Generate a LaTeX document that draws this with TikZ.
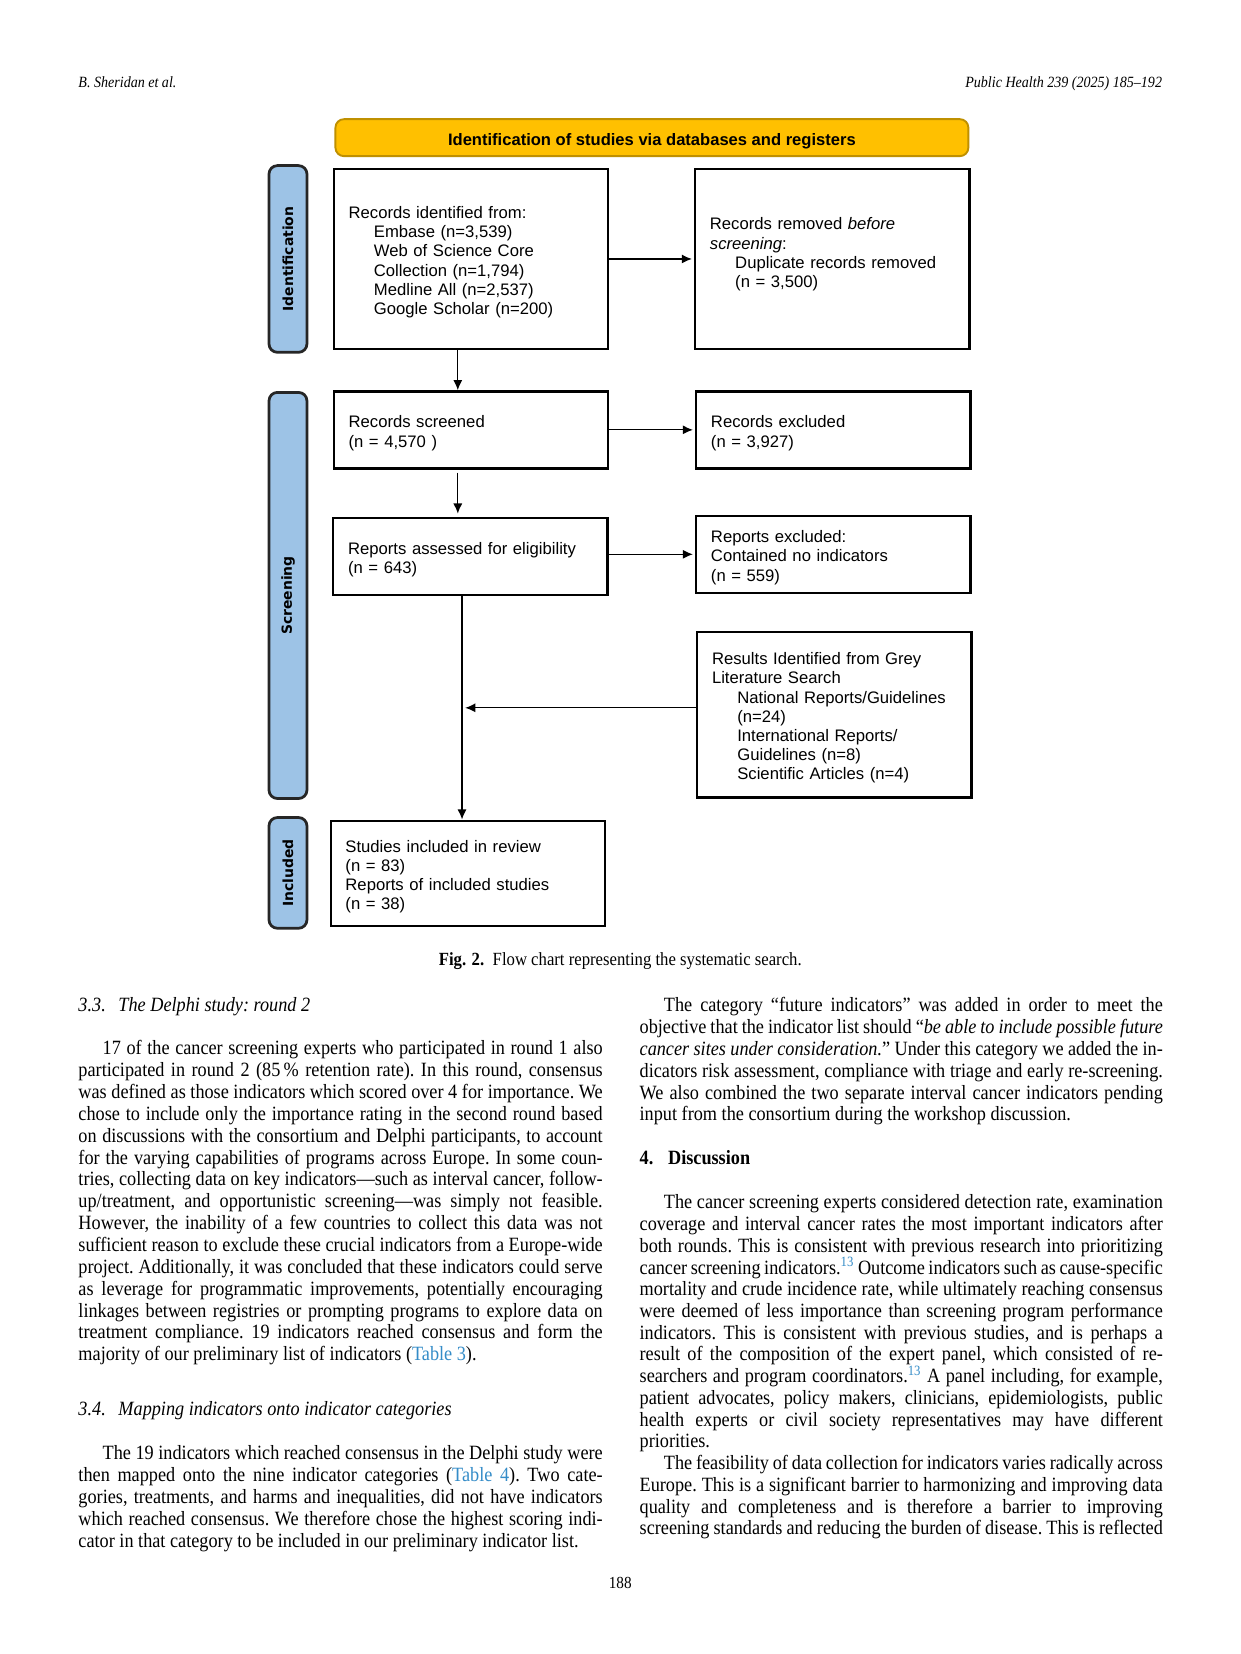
\documentclass[tikz,border=0pt]{standalone}
\usepackage{fontspec}
\setmainfont{Liberation Serif}[FakeStretch=0.9]
\newfontfamily\arialf{Liberation Sans}
\newfontfamily\verdf{DejaVu Sans}
\usetikzlibrary{arrows.meta,calc}
\definecolor{bannerfill}{HTML}{FFC000}
\definecolor{bannerdraw}{HTML}{BF9000}
\definecolor{sidefill}{HTML}{9DC3E6}
\definecolor{linkblue}{RGB}{52,140,200}
\newcommand\jline[1]{\noindent\makebox[\linewidth][s]{#1}\par}
\newcommand\lline[1]{\noindent #1\par}
\newcommand\tlink[1]{\textcolor{linkblue}{#1}}
\newcommand\bodyfont{\fontsize{9.6pt}{10.36pt}\selectfont\frenchspacing}
\newcommand\pind{\hspace*{11.5pt}}
\newcommand\bind{\hspace*{12pt}}
\newcommand\tstrut{\rule{0pt}{8.8pt}}
\tikzset{
  fbox/.style={draw, line width=1.1pt, inner xsep=7pt, inner ysep=0pt, align=left, text width=116pt,
    font=\arialf\fontsize{7.9pt}{9.1pt}\selectfont},
  side/.style={draw=black!85, line width=1.3pt, fill=sidefill, rounded corners=4pt, rotate=90,
    minimum height=18pt, inner sep=0pt, font=\verdf\bfseries\fontsize{6.6pt}{8pt}\selectfont},
  arr/.style={line width=0.6pt, -{Latex[length=4.8pt,width=4.3pt]}},
  para/.style={anchor=base west, inner sep=0pt, font=\bodyfont},
}
\begin{document}
\begin{tikzpicture}[x=0.5pt,y=-0.5pt]
\fill[white] (0,0) rectangle (1176,1568);
\useasboundingbox (0,0) rectangle (1176,1568);

% running head
\node[anchor=base west, inner sep=0pt, font=\itshape\fontsize{7.4pt}{9pt}\selectfont] (hl) at (74,83) {B. Sheridan et al.};
\node[anchor=base east, inner sep=0pt, font=\itshape\fontsize{7.4pt}{9pt}\selectfont] (hr) at (1102,83) {Public Health 239 (2025) 185–192};

% banner
\node[draw=bannerdraw, fill=bannerfill, line width=0.9pt, rounded corners=4pt, minimum width=300pt,
  minimum height=17.5pt, inner sep=0pt, text height=7.7pt, text depth=0pt,
  font=\arialf\bfseries\fontsize{7.85pt}{9pt}\selectfont]
  (ban) at (618,130.5) {Identification of studies via databases and registers};

% side labels
\node[side, minimum width=88.5pt] (sid) at (273,245.5) {Identification};
\node[side, minimum width=192.5pt] (scr) at (273,564.5) {Screening};
\node[side, minimum width=52.5pt] (inc) at (273,827.5) {Included};

% boxes
\node[fbox, minimum height=85.5pt] (A) at (446.5,245.5) {\tstrut Records identified from:\\
\bind Embase (n=3,539)\\
\bind Web of Science Core\\
\bind Collection (n=1,794)\\
\bind Medline All (n=2,537)\\
\bind Google Scholar (n=200)};

\node[fbox, minimum height=85.5pt] (B) at (789,245.5) {\tstrut Records removed \textit{before}\\
\textit{screening}:\\
\bind Duplicate records removed\\
\bind (n = 3,500)\\ \mbox{}};

\node[fbox, minimum height=36.5pt] (C) at (446.5,407.5) {\tstrut Records screened\\(n = 4,570 )};
\node[fbox, minimum height=36.5pt] (D) at (790,407.5) {\tstrut Records excluded\\(n = 3,927)};
\node[fbox, minimum height=36.5pt] (E) at (446,527.5) {\tstrut Reports assessed for eligibility\\(n = 643)};
\node[fbox, minimum height=36.5pt] (F) at (790,525.5) {\tstrut Reports excluded:\\Contained no indicators\\(n = 559)};

\node[fbox, minimum height=78.5pt] (G) at (791,677.5) {\tstrut Results Identified from Grey\\
Literature Search\\
\bind National Reports/Guidelines\\
\bind (n=24)\\
\bind International Reports/\\
\bind Guidelines (n=8)\\
\bind Scientific Articles (n=4)};

\node[fbox, minimum height=50pt] (H) at (443.5,828) {\tstrut Studies included in review\\
(n = 83)\\
Reports of included studies\\
(n = 38)};

% connectors
\coordinate (ax1) at (434,0);
\coordinate (ax2) at (438,0);
\coordinate (jn) at (441,671);
\draw[arr, shorten >=1pt] (A.east) -- (B.west);
\draw[arr] (A.south -| ax1) -- (C.north -| ax1);
\draw[arr, shorten >=1pt] (C.east) -- (D.west);
\draw[arr, shorten <=1.5pt, shorten >=1.5pt] (C.south -| ax1) -- (E.north -| ax1);
\draw[arr, shorten >=1pt] (E.east |- F.west) -- (F.west);
\draw[arr] (E.south -| ax2) -- (H.north -| ax2);
\draw[arr] (G.west |- jn) -- (jn);

% caption
\node[anchor=base, inner sep=0pt, font=\fontsize{8.8pt}{10pt}\selectfont] (cap) at (588,915)
  {\textbf{Fig. 2.}\hspace{4pt}Flow chart representing the systematic search.};

% left column
\node[para] (h33) at (74,959) {\itshape 3.3.\hspace{6pt}The Delphi study: round 2};
\node[para] (lp1) at (74,1000) {\begin{minipage}[t]{248.5pt}\bodyfont
\jline{\pind 17 of the cancer screening experts who participated in round 1 also}
\jline{participated in round 2 (85\,\% retention rate). In this round, consensus}
\jline{was defined as those indicators which scored over 4 for importance. We}
\jline{chose to include only the importance rating in the second round based}
\jline{on discussions with the consortium and Delphi participants, to account}
\jline{for the varying capabilities of programs across Europe. In some coun-}
\jline{tries, collecting data on key indicators—such as interval cancer, follow-}
\jline{up/treatment, and opportunistic screening—was simply not feasible.}
\jline{However, the inability of a few countries to collect this data was not}
\jline{sufficient reason to exclude these crucial indicators from a Europe-wide}
\jline{project. Additionally, it was concluded that these indicators could serve}
\jline{as leverage for programmatic improvements, potentially encouraging}
\jline{linkages between registries or prompting programs to explore data on}
\jline{treatment compliance. 19 indicators reached consensus and form the}
\lline{majority of our preliminary list of indicators (\tlink{Table 3}).}
\end{minipage}};

\node[para] (h34) at (74,1342) {\itshape 3.4.\hspace{6pt}Mapping indicators onto indicator categories};
\node[para] (lp2) at (74,1384) {\begin{minipage}[t]{248.5pt}\bodyfont
\jline{\pind The 19 indicators which reached consensus in the Delphi study were}
\jline{then mapped onto the nine indicator categories (\tlink{Table 4}). Two cate-}
\jline{gories, treatments, and harms and inequalities, did not have indicators}
\jline{which reached consensus. We therefore chose the highest scoring indi-}
\lline{cator in that category to be included in our preliminary indicator list.}
\end{minipage}};

% right column
\node[para] (rp1) at (606,959) {\begin{minipage}[t]{248pt}\bodyfont
\jline{\pind The category “future indicators” was added in order to meet the}
\jline{objective that the indicator list should “\textit{be able to include possible future}}
\jline{\textit{cancer sites under consideration.}” Under this category we added the in-}
\jline{dicators risk assessment, compliance with triage and early re-screening.}
\jline{We also combined the two separate interval cancer indicators pending}
\lline{input from the consortium during the workshop discussion.}
\end{minipage}};

\node[para] (h4) at (606,1104) {\bfseries 4.\hspace{7pt}Discussion};

\node[para] (rp2) at (606,1146) {\begin{minipage}[t]{248pt}\fontsize{9.6pt}{10.3pt}\selectfont\frenchspacing
\jline{\pind The cancer screening experts considered detection rate, examination}
\jline{coverage and interval cancer rates the most important indicators after}
\jline{both rounds. This is consistent with previous research into prioritizing}
\jline{cancer screening indicators.\textsuperscript{\tlink{13}} Outcome indicators such as cause-specific}
\jline{mortality and crude incidence rate, while ultimately reaching consensus}
\jline{were deemed of less importance than screening program performance}
\jline{indicators. This is consistent with previous studies, and is perhaps a}
\jline{result of the composition of the expert panel, which consisted of re-}
\jline{searchers and program coordinators.\textsuperscript{\tlink{13}} A panel including, for example,}
\jline{patient advocates, policy makers, clinicians, epidemiologists, public}
\jline{health experts or civil society representatives may have different}
\lline{priorities.}
\jline{\pind The feasibility of data collection for indicators varies radically across}
\jline{Europe. This is a significant barrier to harmonizing and improving data}
\jline{quality and completeness and is therefore a barrier to improving}
\jline{screening standards and reducing the burden of disease. This is reflected}
\end{minipage}};

% page number
\node[anchor=base, inner sep=0pt, font=\fontsize{8pt}{10pt}\selectfont] (pg) at (588,1506) {188};
\end{tikzpicture}
\end{document}
